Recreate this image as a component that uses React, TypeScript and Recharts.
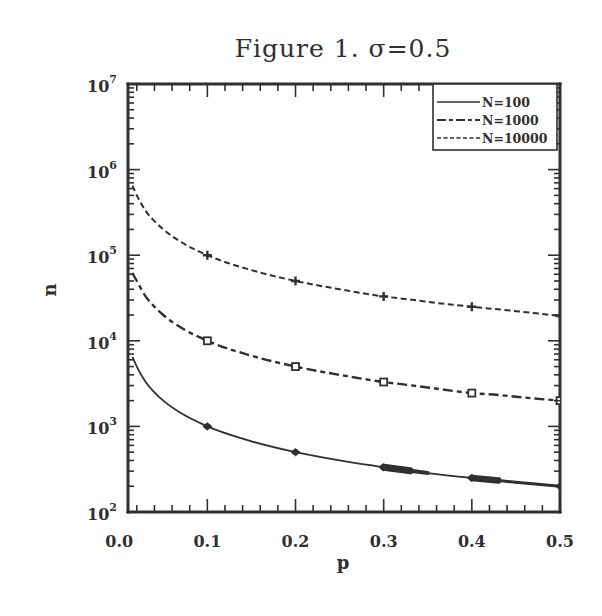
import React from 'react';
import { ComposedChart, Line, XAxis, YAxis } from 'recharts';

// ---- data ----
const P_VALUES = [0.015, 0.02, 0.03, 0.04, 0.05, 0.07, 0.1, 0.15, 0.2, 0.25, 0.3, 0.33, 0.35, 0.4, 0.43, 0.45, 0.5];
const N100 = [6500, 5000, 3300, 2500, 2000, 1430, 1000, 670, 500, 400, 333, 303, 285, 250, 233, 222, 200];
const N1000 = [62000, 50000, 33000, 25000, 20000, 14300, 10000, 6700, 5000, 4000, 3300, 3030, 2850, 2450, 2330, 2220, 2000];
const N10000 = [650000, 500000, 330000, 250000, 200000, 143000, 100000, 67000, 50000, 40000, 33000, 30300, 28500, 25000, 23300, 22200, 19500];
const SERIES_NAMES = ['N=100', 'N=1000', 'N=10000'];
const MARKER_P = [0.1, 0.2, 0.3, 0.4, 0.5];

const X_MAJOR_TICKS = [0, 0.1, 0.2, 0.3, 0.4, 0.5];
const X_MINOR_TICKS = [0.02, 0.04, 0.06, 0.08, 0.12, 0.14, 0.16, 0.18, 0.22, 0.24, 0.26, 0.28, 0.32, 0.34, 0.36, 0.38, 0.42, 0.44, 0.46, 0.48];
const Y_DECADES = [100, 1000, 10000, 100000, 1000000, 10000000];
const Y_MINOR_MULTS = [2, 3, 4, 5, 6, 7, 8, 9];

const TITLE = 'Figure 1. \u03c3=0.5';
const X_LABEL = 'p';
const Y_LABEL = 'n';

// thick overdrawn parts of the N=100 curve in the scan
const THICK_SEGMENTS = [
  { key: 'tA1', from: 0.3, to: 0.33, width: 7 },
  { key: 'tA2', from: 0.3, to: 0.35, width: 4 },
  { key: 'tB1', from: 0.4, to: 0.43, width: 6.5 },
  { key: 'tB2', from: 0.4, to: 0.5, width: 3 },
];

const X_DOMAIN = [0.01, 0.5];
const Y_DOMAIN = [100, 10000000];

const rows = P_VALUES.map((p, i) => {
  const r: any = { p, n100: N100[i], n1000: N1000[i], n10000: N10000[i] };
  THICK_SEGMENTS.forEach((s) => {
    r[s.key] = p >= s.from - 1e-9 && p <= s.to + 1e-9 ? N100[i] : null;
  });
  return r;
});

const Y_ALL_TICKS: number[] = [];
Y_DECADES.forEach((d, i) => {
  Y_ALL_TICKS.push(d);
  if (i < Y_DECADES.length - 1) Y_MINOR_MULTS.forEach((m) => Y_ALL_TICKS.push(d * m));
});
const X_ALL_TICKS = [...X_MAJOR_TICKS, ...X_MINOR_TICKS].sort((a, b) => a - b);

const INK = '#303030';
const FONT = '"DejaVu Serif", serif';

const isMajorX = (v: number) => X_MAJOR_TICKS.some((t) => Math.abs(t - v) < 1e-9);
const isDecade = (v: number) => Y_DECADES.some((t) => Math.abs(t - v) < 1e-6 * t);

const BottomTick = (props: any) => {
  const { x, y, payload } = props;
  const v = payload.value;
  const major = isMajorX(v);
  const inside = v >= X_DOMAIN[0] - 1e-9;
  return (
    <g>
      {inside && <line x1={x} y1={y} x2={x} y2={y - (major ? 13 : 7)} stroke={INK} strokeWidth={1.6} />}
      {major && (
        <text x={x} y={y + 35} textAnchor="middle" fontFamily={FONT} fontWeight="bold" fontSize={16} fill={INK}>
          {v.toFixed(1)}
        </text>
      )}
    </g>
  );
};

const TopTick = (props: any) => {
  const { x, y, payload } = props;
  const v = payload.value;
  if (v < X_DOMAIN[0] - 1e-9) return <g />;
  const major = isMajorX(v);
  return <line x1={x} y1={y} x2={x} y2={y + (major ? 13 : 7)} stroke={INK} strokeWidth={1.6} />;
};

const LeftTick = (props: any) => {
  const { x, y, payload } = props;
  const v = payload.value;
  const major = isDecade(v);
  const exp = Math.round(Math.log10(v));
  return (
    <g>
      <line x1={x} y1={y} x2={x + (major ? 12 : 6)} y2={y} stroke={INK} strokeWidth={1.6} />
      {major && (
        <text x={x - 11} y={y + 8} textAnchor="end" fontFamily={FONT} fontWeight="bold" fontSize={16} fill={INK}>
          <tspan>10</tspan>
          <tspan dy={-9} fontSize={11}>{exp}</tspan>
        </text>
      )}
    </g>
  );
};

const RightTick = (props: any) => {
  const { x, y, payload } = props;
  const major = isDecade(payload.value);
  return <line x1={x} y1={y} x2={x - (major ? 12 : 6)} y2={y} stroke={INK} strokeWidth={1.6} />;
};

const isMarkerP = (p: number) => MARKER_P.some((m) => Math.abs(m - p) < 1e-9);

const DiamondDot = (props: any) => {
  const { cx, cy, payload } = props;
  if (!isMarkerP(payload.p) || cx == null) return <g key={props.key} />;
  const s = 4.5;
  return (
    <path key={props.key} d={`M${cx - s},${cy} L${cx},${cy - s * 0.8} L${cx + s},${cy} L${cx},${cy + s * 0.8} Z`} fill={INK} stroke={INK} strokeWidth={1} />
  );
};

const SquareDot = (props: any) => {
  const { cx, cy, payload } = props;
  if (!isMarkerP(payload.p) || cx == null) return <g key={props.key} />;
  const s = 3.5;
  return <rect key={props.key} x={cx - s} y={cy - s} width={2 * s} height={2 * s} fill="#fff" stroke={INK} strokeWidth={1.8} />;
};

const PlusDot = (props: any) => {
  const { cx, cy, payload } = props;
  if (!isMarkerP(payload.p) || cx == null) return <g key={props.key} />;
  const s = 4.5;
  return (
    <path key={props.key} d={`M${cx - s},${cy} L${cx + s},${cy} M${cx},${cy - s} L${cx},${cy + s}`} stroke={INK} strokeWidth={2.4} fill="none" />
  );
};

const AXIS_LINE = { stroke: INK, strokeWidth: 3, strokeLinecap: 'square' as const };

export default function App() {
  const W = 594;
  const H = 600;
  return (
    <div style={{ position: 'relative', width: W, height: H, background: '#fff' }}>
      <ComposedChart width={W} height={H} data={rows} margin={{ top: 66, right: 32, left: 60, bottom: 36 }}>
        <XAxis
          xAxisId="b"
          dataKey="p"
          type="number"
          domain={X_DOMAIN}
          allowDataOverflow
          ticks={X_ALL_TICKS}
          interval={0}
          tickSize={0}
          tickMargin={0}
          tickLine={false}
          axisLine={AXIS_LINE}
          tick={<BottomTick />}
          height={60}
        />
        <XAxis
          xAxisId="t"
          orientation="top"
          dataKey="p"
          type="number"
          domain={X_DOMAIN}
          allowDataOverflow
          ticks={X_ALL_TICKS}
          interval={0}
          tickSize={0}
          tickMargin={0}
          tickLine={false}
          axisLine={AXIS_LINE}
          tick={<TopTick />}
          height={10}
        />
        <YAxis
          yAxisId="l"
          scale="log"
          type="number"
          domain={Y_DOMAIN}
          allowDataOverflow
          ticks={Y_ALL_TICKS}
          interval={0}
          tickSize={0}
          tickMargin={0}
          tickLine={false}
          axisLine={AXIS_LINE}
          tick={<LeftTick />}
          width={60}
        />
        <YAxis
          yAxisId="r"
          orientation="right"
          scale="log"
          type="number"
          domain={Y_DOMAIN}
          allowDataOverflow
          ticks={Y_ALL_TICKS}
          interval={0}
          tickSize={0}
          tickMargin={0}
          tickLine={false}
          axisLine={AXIS_LINE}
          tick={<RightTick />}
          width={10}
        />
        <Line xAxisId="b" yAxisId="l" dataKey="n10000" name={SERIES_NAMES[2]} stroke={INK} strokeWidth={2} strokeDasharray="6 3.5" dot={<PlusDot />} activeDot={false} isAnimationActive={false} type="monotone" />
        <Line xAxisId="b" yAxisId="l" dataKey="n1000" name={SERIES_NAMES[1]} stroke={INK} strokeWidth={2.4} strokeDasharray="10 4 5 4" dot={<SquareDot />} activeDot={false} isAnimationActive={false} type="monotone" />
        <Line xAxisId="b" yAxisId="l" dataKey="n100" name={SERIES_NAMES[0]} stroke={INK} strokeWidth={1.8} dot={<DiamondDot />} activeDot={false} isAnimationActive={false} type="monotone" />
        {THICK_SEGMENTS.map((s) => (
          <Line key={s.key} xAxisId="b" yAxisId="l" dataKey={s.key} stroke={INK} strokeWidth={s.width} strokeLinecap="round" dot={false} activeDot={false} connectNulls={false} isAnimationActive={false} type="linear" legendType="none" />
        ))}
      </ComposedChart>
      <svg width={W} height={H} style={{ position: 'absolute', left: 0, top: 0, pointerEvents: 'none' }}>
        <text x={335} y={49} textAnchor="middle" fontFamily={FONT} fontSize={25} fill={INK} letterSpacing={1}>
          {TITLE}
        </text>
        <text x={335} y={561} textAnchor="middle" fontFamily={FONT} fontWeight="bold" fontSize={18} fill={INK}>
          {X_LABEL}
        </text>
        <text transform="translate(48,282) rotate(-90)" textAnchor="middle" fontFamily={FONT} fontWeight="bold" fontSize={18} fill={INK}>
          {Y_LABEL}
        </text>
        <g>
          <rect x={425} y={76} width={124} height={66} fill="#fff" stroke={INK} strokeWidth={1.6} />
          <line x1={429} y1={94} x2={472} y2={94} stroke={INK} strokeWidth={1.6} />
          <line x1={429} y1={112} x2={472} y2={112} stroke={INK} strokeWidth={2} strokeDasharray="9 3 4 3" />
          <line x1={429} y1={130} x2={472} y2={130} stroke={INK} strokeWidth={1.6} strokeDasharray="4 2.5" />
          {SERIES_NAMES.map((n, i) => (
            <text key={n} x={474} y={99 + i * 18} fontFamily={FONT} fontWeight="bold" fontSize={12.5} fill={INK}>
              {n}
            </text>
          ))}
        </g>
      </svg>
    </div>
  );
}
